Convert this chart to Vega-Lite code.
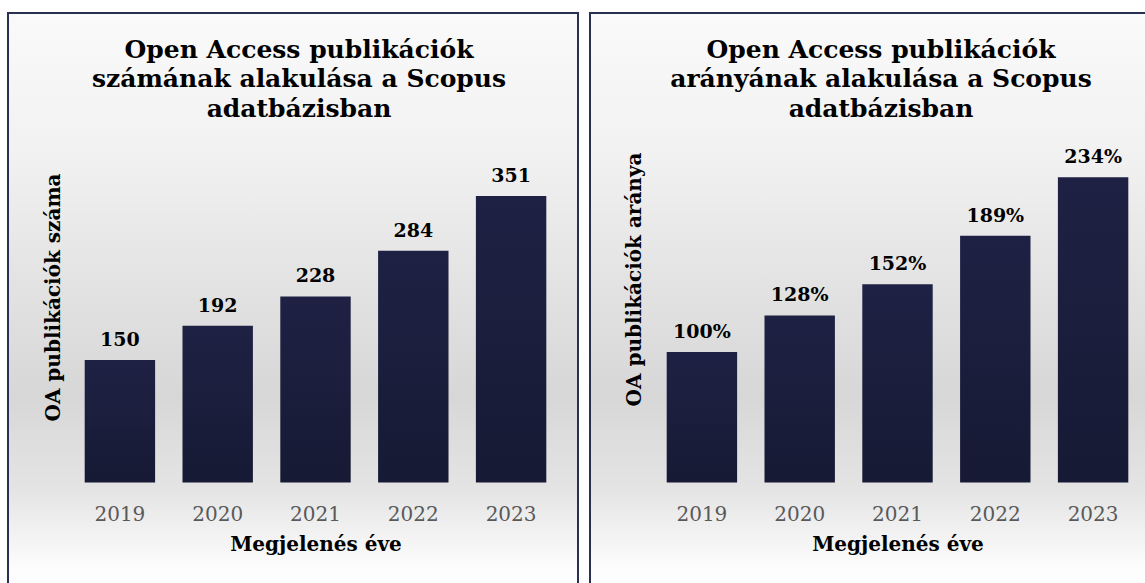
{
  "$schema": "https://vega.github.io/schema/vega-lite/v6.json",
  "padding": {"left": 7, "top": 12, "right": 0, "bottom": 0},
  "autosize": {"type": "pad"},
  "spacing": 10,
  "background": "#ffffff",
  "config": {
    "font": "DejaVu Serif",
    "view": {
      "stroke": "#283152",
      "strokeWidth": 2,
      "fill": {
        "gradient": "linear", "x1": 0, "y1": 0, "x2": 0, "y2": 1,
        "stops": [
          {"offset": 0, "color": "#fafafa"},
          {"offset": 0.25, "color": "#f1f1f1"},
          {"offset": 0.46, "color": "#e3e3e3"},
          {"offset": 0.66, "color": "#d7d7d7"},
          {"offset": 0.82, "color": "#e4e4e4"},
          {"offset": 0.96, "color": "#fdfdfd"},
          {"offset": 1, "color": "#ffffff"}
        ]
      }
    },
    "axis": {"grid": false, "domain": false, "ticks": false, "tickSize": 0}
  },
  "hconcat": [
    {
      "width": 570,
      "height": 580,
      "title": {
        "text": ["Open Access publikációk", "számának alakulása a Scopus", "adatbázisban"],
        "fontSize": 25, "fontWeight": "bold", "color": "#000000",
        "lineHeight": 29.5, "baseline": "alphabetic", "offset": -128.5,
        "frame": "group", "anchor": "middle", "dx": 6
      },
      "data": {"values": [
        {"year": "2019", "value": 150},
        {"year": "2020", "value": 192},
        {"year": "2021", "value": 228},
        {"year": "2022", "value": 284},
        {"year": "2023", "value": 351}
      ]},
      "encoding": {
        "x": {
          "field": "year", "type": "ordinal",
          "scale": {"range": [63, 552], "paddingInner": 0.28, "paddingOuter": 0.14},
          "axis": {
            "title": "Megjelenés éve", "labelAngle": 0, "labelFontSize": 20,
            "labelColor": "#595959", "labelPadding": 21.5, "offset": -110.5,
            "titleFontSize": 20, "titleFontWeight": "bold", "titleColor": "#000000",
            "titleBaseline": "alphabetic", "titleY": 67.5
          }
        },
        "y": {
          "field": "value", "type": "quantitative",
          "scale": {"domain": [0, 400], "range": [469.5, 143], "nice": false},
          "axis": {
            "title": "OA publikációk száma", "labels": false,
            "titleFontSize": 20, "titleFontWeight": "bold", "titleColor": "#000000",
            "titleX": 51, "titleY": 284, "titleAngle": -90,
            "titleBaseline": "alphabetic", "titleAlign": "center"
          }
        }
      },
      "layer": [
        {"mark": {"type": "bar", "color": {
          "gradient": "linear", "x1": 0, "y1": 0, "x2": 0, "y2": 1,
          "stops": [{"offset": 0, "color": "#1e2143"}, {"offset": 1, "color": "#171a34"}]
        }}},
        {"mark": {"type": "text", "baseline": "alphabetic", "dy": -14, "fontSize": 19, "fontWeight": "bold", "color": "#000000"},
         "encoding": {"text": {"field": "value", "type": "quantitative"}}}
      ]
    },
    {
      "width": 570,
      "height": 580,
      "title": {
        "text": ["Open Access publikációk", "arányának alakulása a Scopus", "adatbázisban"],
        "fontSize": 25, "fontWeight": "bold", "color": "#000000",
        "lineHeight": 29.5, "baseline": "alphabetic", "offset": -128.5,
        "frame": "group", "anchor": "middle", "dx": 6
      },
      "data": {"values": [
        {"year": "2019", "value": 1.00},
        {"year": "2020", "value": 1.28},
        {"year": "2021", "value": 1.52},
        {"year": "2022", "value": 1.89},
        {"year": "2023", "value": 2.34}
      ]},
      "encoding": {
        "x": {
          "field": "year", "type": "ordinal",
          "scale": {"range": [63, 552], "paddingInner": 0.28, "paddingOuter": 0.14},
          "axis": {
            "title": "Megjelenés éve", "labelAngle": 0, "labelFontSize": 20,
            "labelColor": "#595959", "labelPadding": 21.5, "offset": -110.5,
            "titleFontSize": 20, "titleFontWeight": "bold", "titleColor": "#000000",
            "titleBaseline": "alphabetic", "titleY": 67.5
          }
        },
        "y": {
          "field": "value", "type": "quantitative",
          "scale": {"domain": [0, 2.5], "range": [469.5, 143.25], "nice": false},
          "axis": {
            "title": "OA publikációk aránya", "labels": false,
            "titleFontSize": 20, "titleFontWeight": "bold", "titleColor": "#000000",
            "titleX": 50, "titleY": 266, "titleAngle": -90,
            "titleBaseline": "alphabetic", "titleAlign": "center"
          }
        }
      },
      "layer": [
        {"mark": {"type": "bar", "color": {
          "gradient": "linear", "x1": 0, "y1": 0, "x2": 0, "y2": 1,
          "stops": [{"offset": 0, "color": "#1e2143"}, {"offset": 1, "color": "#171a34"}]
        }}},
        {"mark": {"type": "text", "baseline": "alphabetic", "dy": -14, "fontSize": 19, "fontWeight": "bold", "color": "#000000"},
         "encoding": {"text": {"field": "value", "type": "quantitative", "format": ".0%"}}}
      ]
    }
  ]
}
